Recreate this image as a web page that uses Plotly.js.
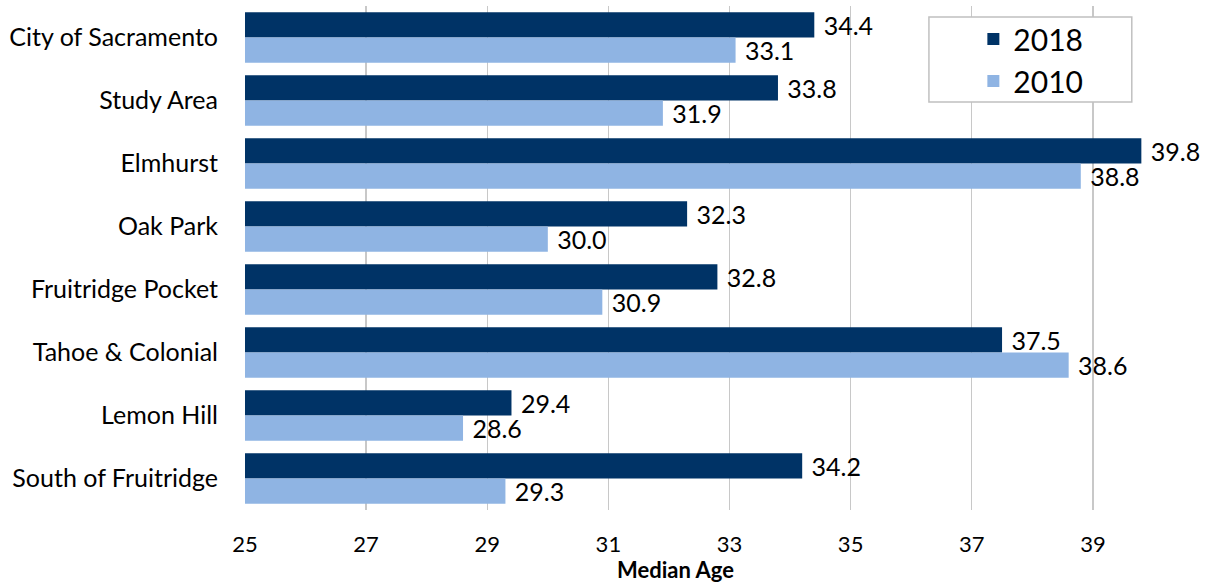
<!DOCTYPE html>
<html><head><meta charset="utf-8">
<script src="https://cdn.plot.ly/plotly-3.0.1.min.js"></script>
<style>body{margin:0;padding:0;background:#fff}#chart{width:1211px;height:585px}</style>
</head><body><div id="chart"></div>
<script>
const categories = ["City of Sacramento","Study Area","Elmhurst","Oak Park","Fruitridge Pocket","Tahoe & Colonial","Lemon Hill","South of Fruitridge"];
const values2018 = [34.4, 33.8, 39.8, 32.3, 32.8, 37.5, 29.4, 34.2];
const values2010 = [33.1, 31.9, 38.8, 30.0, 30.9, 38.6, 28.6, 29.3];
const tickVals = [25, 27, 29, 31, 33, 35, 37, 39];
const xTitle = "Median Age";

const FONT = "Lato, 'Open Sans', sans-serif";
const traces = [
  {type:'bar', orientation:'h', name:'2018', y:categories, x:values2018,
   marker:{color:'#003366'}, text:values2018.map(v=>'\u00a0'+v.toFixed(1)), textposition:'outside',
   constraintext:'none', cliponaxis:false, textfont:{size:25, color:'#000', family:FONT}},
  {type:'bar', orientation:'h', name:'2010', y:categories, x:values2010,
   marker:{color:'#8FB4E3'}, text:values2010.map(v=>'\u00a0'+v.toFixed(1)), textposition:'outside',
   constraintext:'none', cliponaxis:false, textfont:{size:25, color:'#000', family:FONT}}
];
const layout = {
  width:1211, height:585,
  margin:{l:245, r:0, t:6, b:75},
  paper_bgcolor:'#fff', plot_bgcolor:'#fff',
  barmode:'group', bargap:0.2, bargroupgap:0,
  font:{family:FONT, color:'#000'},
  xaxis:{range:[25, 40.95], tickvals:tickVals, ticktext:tickVals.map(String),
    showgrid:true, gridcolor:'#c8c8c8', gridwidth:1.3, zeroline:false, showline:false,
    tickfont:{size:22, family:FONT}, ticks:'outside', ticklen:15, tickcolor:'rgba(255,255,255,0)'},
  yaxis:{autorange:'reversed', showgrid:false, showline:false, zeroline:false,
    tickfont:{size:25, family:FONT}, ticks:'outside', ticklen:21, tickcolor:'rgba(255,255,255,0)'},
  showlegend:true,
  legend:{x:0.754, y:0.893, xanchor:'left', yanchor:'middle', borderwidth:0,
    bgcolor:'rgba(0,0,0,0)', font:{size:30, family:FONT}, traceorder:'normal', itemwidth:30,
    tracegroupgap:0},
  shapes:[{type:'rect', xref:'paper', yref:'paper', x0:0.708, x1:0.918, y0:0.8095, y1:0.978,
    line:{color:'#c0c0c0', width:1.5}, fillcolor:'#fff', layer:'above'}],
  annotations:[{text:'<b>'+xTitle+'</b>', xref:'paper', yref:'paper', x:0.446, y:-0.119,
    xanchor:'center', yanchor:'middle', showarrow:false, font:{size:22, family:FONT, color:'#000'}}]
};
Plotly.newPlot('chart', traces, layout, {staticPlot:true, displayModeBar:false});
</script></body></html>
